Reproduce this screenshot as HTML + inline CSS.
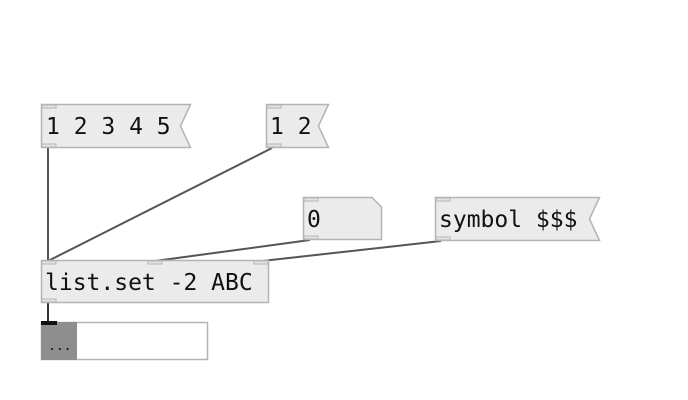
<!DOCTYPE html>
<html><head><meta charset="utf-8"><style>
html,body{margin:0;padding:0;background:#fff;}
svg{display:block}
text{font-family:"DejaVu Sans Mono","Liberation Mono",monospace;font-size:23px;fill:#111}
</style></head><body>
<svg width="688" height="400" viewBox="0 0 688 400" xmlns="http://www.w3.org/2000/svg">
<g stroke="#555" stroke-width="2" fill="none">
<line x1="48" y1="148" x2="48" y2="261"/>
<line x1="272" y1="148" x2="48" y2="261"/>
<line x1="310" y1="240" x2="155" y2="261"/>
<line x1="441" y1="241" x2="262" y2="261"/>
</g>
<line x1="48" y1="303" x2="48" y2="322" stroke="#333" stroke-width="2"/>
<g fill="#ebebeb" stroke="#b4b4b4" stroke-width="1.5">
<polygon points="41.5,104.5 190.5,104.5 180.5,126 190.5,147.5 41.5,147.5"/>
<polygon points="266.5,104.5 328.5,104.5 318.5,126 328.5,147.5 266.5,147.5"/>
<polygon points="303.5,197.5 372,197.5 381.5,207 381.5,239.5 303.5,239.5"/>
<polygon points="435.5,197.5 599.5,197.5 589.5,219 599.5,240.5 435.5,240.5"/>
<rect x="41.5" y="260.5" width="227" height="42"/>
</g>
<g fill="#e4e4e4" stroke="#b4b4b4" stroke-width="1">
<rect x="42" y="105" width="14" height="3"/><rect x="42" y="144" width="14" height="3"/>
<rect x="267" y="105" width="14" height="3"/><rect x="267" y="144" width="14" height="3"/>
<rect x="304" y="198" width="14" height="3"/><rect x="304" y="236" width="14" height="3"/>
<rect x="436" y="198" width="14" height="3"/><rect x="436" y="237" width="14" height="3"/>
<rect x="42" y="261" width="14" height="3"/><rect x="148" y="261" width="14" height="3"/><rect x="254" y="261" width="14" height="3"/>
<rect x="42" y="299" width="14" height="3"/>
</g>
<rect x="41.5" y="322.5" width="166" height="37" fill="#fff" stroke="#b4b4b4" stroke-width="1.5"/>
<rect x="41" y="322" width="36" height="38" fill="#8e8e8e"/>
<rect x="41" y="321" width="16" height="4" fill="#111"/>
<text x="46" y="134">1 2 3 4 5</text>
<text x="270" y="134">1 2</text>
<text x="307" y="227">0</text>
<text x="439" y="227">symbol $$$</text>
<text x="45" y="290">list.set -2 ABC</text>
<text x="48" y="350" style="font-size:13px">...</text>
</svg>
</body></html>
